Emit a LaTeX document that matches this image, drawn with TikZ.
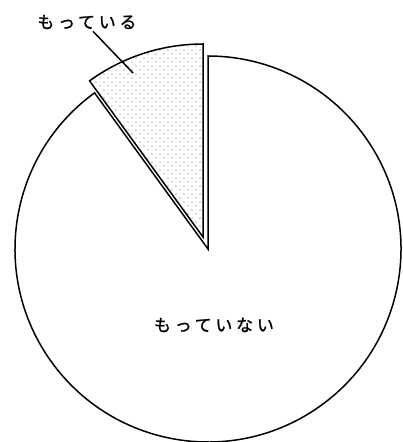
\documentclass[tikz,border=0pt]{standalone}
\usepackage{fontspec}
\newfontfamily\jp[LetterSpace=22,FakeBold=1.2]{Noto Sans CJK JP}
\usepackage{tikz}
\usetikzlibrary{patterns}
\pgfdeclarepatternformonly{sparsedots}{\pgfqpoint{-1pt}{-1pt}}{\pgfqpoint{9pt}{9pt}}{\pgfqpoint{8pt}{8pt}}%
{\pgfpathcircle{\pgfqpoint{0pt}{0pt}}{0.7pt}\pgfpathcircle{\pgfqpoint{4pt}{4pt}}{0.7pt}\pgfusepath{fill}}
\tikzstyle{slice} = [draw=black, line width=1.5pt, line join=miter]
\tikzstyle{owned} = [slice, pattern=sparsedots, pattern color=black!65]
\tikzstyle{label} = [font=\jp\fontsize{17}{17}\selectfont, inner sep=0pt]
\tikzstyle{leader} = [line width=1.5pt]

\begin{document}
\begin{tikzpicture}[x=1pt, y=1pt]
    \useasboundingbox (0,0) rectangle (402,442);
    \coordinate (centre) at (208,193);
    \coordinate (shifted) at (203,205);
    % pie
    \draw [slice] (centre) -- ++(126:193) arc (126:450:193) -- cycle;
    \draw [owned] (shifted) -- ++(90:193) arc (90:126:193) -- cycle;
    % labels
    \node (yes) [label] at (87,420) {もっている};
    \node (no) [label] at (214,117) {もっていない};
    \coordinate (tip) at (133,369);
    \draw [leader] ([xshift=6pt,yshift=-2pt]yes.south) -- (tip);
\end{tikzpicture}
\end{document}
